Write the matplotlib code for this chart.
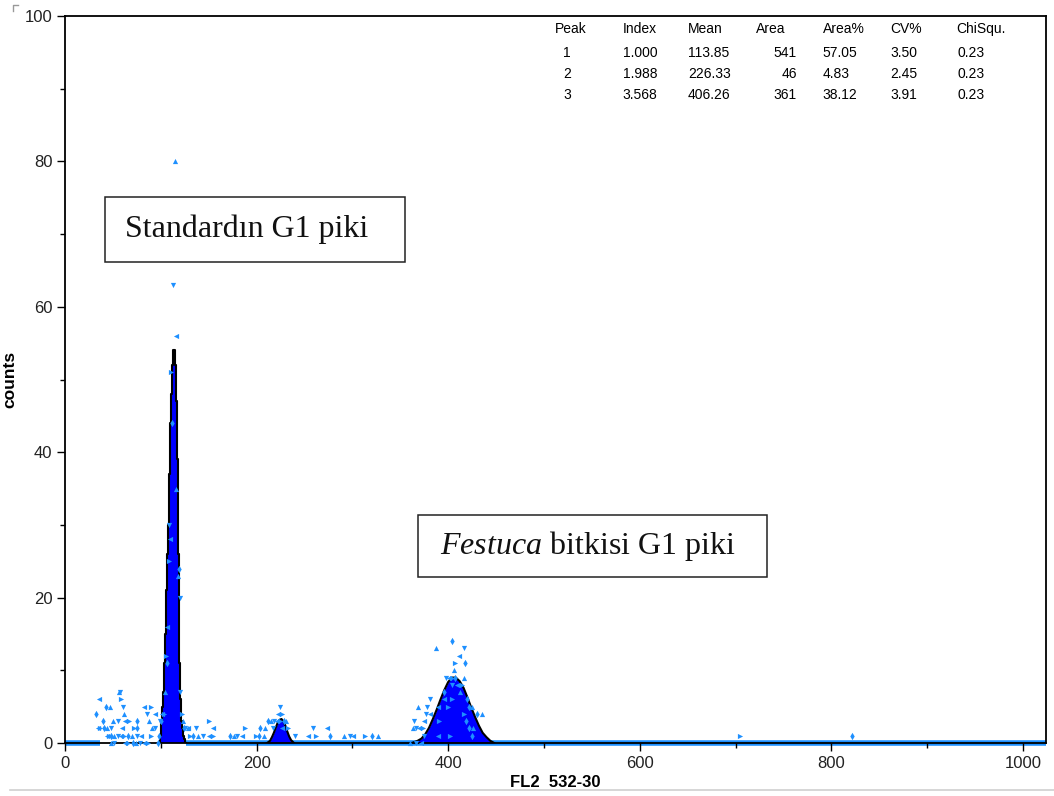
import matplotlib
matplotlib.use("Agg")
import matplotlib.pyplot as plt
from matplotlib import font_manager
from matplotlib.lines import Line2D
from matplotlib.patches import Rectangle
from matplotlib.ticker import MultipleLocator

# ── fonts ────────────────────────────────────────
try:
    font_manager.findfont(font_manager.FontProperties(family="Liberation Sans Narrow"),
                          fallback_to_default=False)
    SANS = "Liberation Sans Narrow"
except ValueError:
    SANS = "Liberation Sans"

plt.rcParams["font.family"] = [SANS, "DejaVu Sans"]
plt.rcParams["mathtext.fontset"] = "custom"
plt.rcParams["mathtext.rm"] = "Liberation Serif"
plt.rcParams["mathtext.it"] = "Liberation Serif:italic"

# ── peak table ───────────────────────────────────
peak_no   = [1, 2, 3]
peak_idx  = ["1.000", "1.988", "3.568"]
peak_mean = [113.85, 226.33, 406.26]
peak_area = [541, 46, 361]
area_pct  = [57.05, 4.83, 38.12]
cv_pct    = [3.50, 2.45, 3.91]
chi_sq    = [0.23, 0.23, 0.23]

# ── fitted peaks (channel, counts) ───────────────
p1_ch  = [99, 100, 101, 102, 103, 104, 105, 106, 107, 108, 109, 110, 111, 112,
          113, 114, 115, 116, 117, 118, 119, 120, 121, 122, 123, 124, 125, 126]
p1_cnt = [0, 1, 3, 5, 7, 11, 15, 21, 26, 30, 37, 44, 48, 52,
          54, 54, 52, 47, 39, 26, 17, 11, 6, 3, 2, 1, 0.5, 0]

p2_ch  = [211, 214, 216, 218, 220, 222, 224, 226, 228, 230, 232, 234, 236, 239]
p2_cnt = [0, 0.3, 0.8, 1.4, 2.1, 2.8, 3.2, 3.3, 3.0, 2.4, 1.6, 0.9, 0.4, 0]

p3_ch  = [362, 368, 372, 376, 380, 384, 388, 392, 396, 400, 404,
          408, 412, 416, 420, 424, 428, 432, 436, 440, 444, 448]
p3_cnt = [0, 0.3, 0.6, 1.2, 2.1, 3.3, 4.6, 6.0, 7.3, 8.4, 9.0,
          9.0, 8.5, 7.6, 6.3, 4.9, 3.6, 2.4, 1.4, 0.8, 0.3, 0]

# ── raw data dots ────────────────────────────────
# debris region left of peak 1
noise_ch  = [56, 57, 36, 58, 43, 47, 61, 82, 90, 32, 62, 86, 94, 103,
             40, 50, 55, 63, 67, 75, 88, 99,
             34, 37, 41, 44, 48, 59, 72, 75, 91, 94,
             44, 46, 48, 51, 55, 58, 62, 66, 70, 75, 79, 90, 98,
             48, 51, 63, 66, 71, 74, 78, 82, 87, 97]
noise_cnt = [7, 7, 6, 6, 5, 5, 5, 5, 5, 4, 4, 4, 4, 4,
             3, 3, 3, 3, 3, 3, 3, 3,
             2, 2, 2, 2, 2, 2, 2, 2, 2, 2,
             1, 1, 1, 1, 1, 1, 1, 1, 1, 1, 1, 1, 1,
             0, 0, 0, 0, 0, 0, 0, 0, 0, 0]

# peak 1
g1_ch  = [115, 113, 116, 111, 112, 116, 109, 110, 109, 119, 118, 120,
          106, 105, 106, 104, 120, 101, 122, 100, 123, 125, 128]
g1_cnt = [80, 63, 56, 51, 44, 35, 30, 28, 25, 24, 23, 20,
          16, 12, 11, 7, 7, 4, 4, 3, 3, 2, 2]

# between the peaks and peak 2
mid_ch  = [150, 124, 128, 137, 155, 188, 204, 209, 259, 273,
           130, 134, 139, 144, 150, 154, 172, 176, 180, 185, 199, 203, 208,
           240, 254, 262, 277, 291, 297, 301, 313, 320, 327,
           224, 222, 227, 212, 215, 218, 221, 224, 229, 231, 217, 226, 233]
mid_cnt = [3, 2, 2, 2, 2, 2, 2, 2, 2, 2,
           1, 1, 1, 1, 1, 1, 1, 1, 1, 1, 1, 1, 1,
           1, 1, 1, 1, 1, 1, 1, 1, 1, 1,
           5, 4, 4, 3, 3, 3, 3, 3, 3, 3, 2, 2, 2]

# peak 3 and far right
g2_ch  = [404, 387, 416, 411, 407, 418, 406, 398, 401, 404, 407, 417,
          404, 409, 414, 396, 412, 381, 396, 404, 420,
          368, 378, 389, 400, 422, 425, 377, 381, 417, 430, 435,
          364, 375, 390, 419, 363, 366, 370, 374, 422, 426,
          375, 389, 402, 425, 360, 366, 372, 705, 822]
g2_cnt = [14, 13, 13, 12, 11, 11, 10, 9, 9, 9, 9, 9,
          8, 8, 8, 7, 7, 6, 6, 6, 6,
          5, 5, 5, 5, 5, 5, 4, 4, 4, 4, 4,
          3, 3, 3, 3, 2, 2, 2, 2, 2, 2,
          1, 1, 1, 1, 0, 0, 0, 1, 1]

# channel ranges where every channel is zero
zero_lo = [0, 126]
zero_hi = [37, 1024]

dot_ch  = noise_ch + g1_ch + mid_ch + g2_ch
dot_cnt = noise_cnt + g1_cnt + mid_cnt + g2_cnt

# ── figure ───────────────────────────────────────
W, H = 1054, 796
fig = plt.figure(figsize=(W / 100, H / 100), dpi=100)
fx = lambda x: x / W
fy = lambda y: 1 - y / H

ax = fig.add_axes([fx(65), fy(743), fx(1046) - fx(65), fy(16) - fy(743)])

DOT = "#1e90ff"
FILL = "#0000ff"

for lo, hi in zip(zero_lo, zero_hi):
    ax.plot([lo, hi], [0, 0], color=DOT, lw=4, solid_capstyle="butt",
            clip_on=False, zorder=1)

ax.fill_between(p1_ch, p1_cnt, step="mid", color=FILL, lw=0, zorder=2)
ax.step(p1_ch, p1_cnt, where="mid", color="black", lw=1.5, zorder=3)
for ch, cnt in [(p2_ch, p2_cnt), (p3_ch, p3_cnt)]:
    ax.fill_between(ch, cnt, color=FILL, lw=0, zorder=2)
    ax.plot(ch, cnt, color="black", lw=1.5, zorder=3)

markers = ["^", "v", "<", ">", "d"]
for i, m in enumerate(markers):
    ax.scatter(dot_ch[i::5], dot_cnt[i::5], marker=m, s=14, color=DOT,
               linewidths=0, zorder=4, clip_on=False)

ax.set_xlim(0, 1024)
ax.set_ylim(0, 100)
ax.xaxis.set_major_locator(MultipleLocator(200))
ax.xaxis.set_minor_locator(MultipleLocator(100))
ax.yaxis.set_major_locator(MultipleLocator(20))
ax.yaxis.set_minor_locator(MultipleLocator(10))
ax.tick_params(which="major", direction="out", length=6, width=1,
               labelsize=12, labelcolor="#222222", pad=3)
ax.tick_params(which="minor", direction="out", length=3.5, width=1)
for s in ax.spines.values():
    s.set_linewidth(1.3)
    s.set_color("black")

ax.set_xlabel("FL2  532-30", fontsize=12, fontweight="bold")
ax.xaxis.set_label_coords(0.5, -0.044)
ax.set_ylabel("counts", fontsize=12.5, fontweight="bold")
ax.yaxis.set_label_coords(-0.049, 0.5)

# ── peak table ───────────────────────────────────
tbl_fs = 11 if SANS.endswith("Narrow") else 10
heads = ["Peak", "Index", "Mean", "Area", "Area%", "CV%", "ChiSqu."]
head_x = [555, 622.7, 688, 756, 822.7, 890, 956.7]
for h, x in zip(heads, head_x):
    fig.text(fx(x), fy(29.3), h, fontsize=tbl_fs, va="center", ha="left")
row_y = [52.7, 73.8, 95]
for k in range(len(peak_no)):
    y = fy(row_y[k])
    fig.text(fx(567), y, str(peak_no[k]), fontsize=tbl_fs, va="center", ha="center")
    fig.text(fx(622.7), y, peak_idx[k], fontsize=tbl_fs, va="center")
    fig.text(fx(688), y, f"{peak_mean[k]:.2f}", fontsize=tbl_fs, va="center")
    fig.text(fx(797), y, str(peak_area[k]), fontsize=tbl_fs, va="center", ha="right")
    fig.text(fx(822.7), y, f"{area_pct[k]:.2f}", fontsize=tbl_fs, va="center")
    fig.text(fx(890), y, f"{cv_pct[k]:.2f}", fontsize=tbl_fs, va="center")
    fig.text(fx(957), y, f"{chi_sq[k]:.2f}", fontsize=tbl_fs, va="center")

# ── annotation boxes ─────────────────────────────
for (x0, y0, x1, y1) in [(105, 197, 405, 262), (418, 515, 767, 577)]:
    fig.patches.append(Rectangle((fx(x0), fy(y1)), fx(x1) - fx(x0), fy(y0) - fy(y1),
                                 transform=fig.transFigure, facecolor="white",
                                 edgecolor="#222222", lw=1.1, zorder=5))
fig.text(fx(125), fy(229), "Standardın G1 piki", family="Liberation Serif",
         fontsize=23, va="center", zorder=6, color="#111111")
fig.text(fx(440), fy(546), r"$\mathit{Festuca}$ bitkisi G1 piki", family="Liberation Serif",
         fontsize=23, va="center", zorder=6, color="#111111")

# page decorations
fig.add_artist(Line2D([fx(10), 1], [fy(790), fy(790)], color="#d0d0d0", lw=1.2))
fig.add_artist(Line2D([fx(13), fx(13), fx(18)], [fy(11), fy(5), fy(5)], color="#999999", lw=1))

fig.savefig("out.png", dpi=100)
